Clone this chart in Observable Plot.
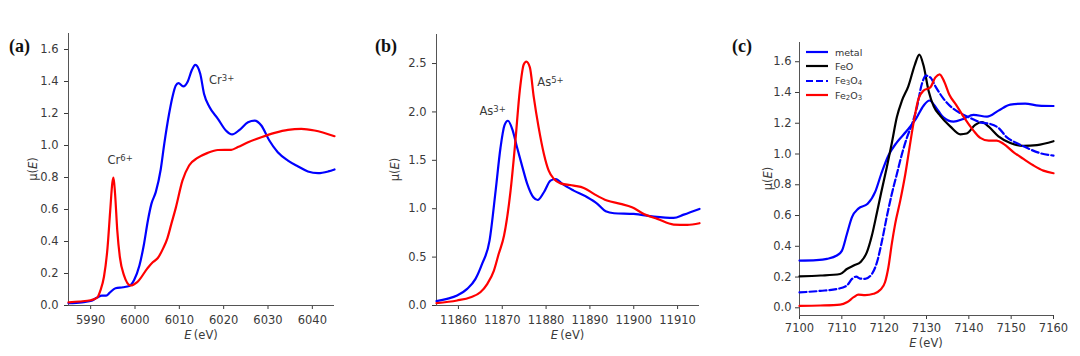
<!DOCTYPE html>
<html><head><meta charset="utf-8">
<script src="https://cdn.jsdelivr.net/npm/d3@7"></script>
<script src="https://cdn.jsdelivr.net/npm/@observablehq/plot@0.6"></script>
<style>
body{margin:0;background:#fff;}
#wrap{position:relative;width:1080px;height:356px;overflow:hidden;font-family:"DejaVu Sans",sans-serif;background:#fff;}
.panel{position:absolute;top:0;}
.plabel{position:absolute;font-family:"Liberation Serif",serif;font-weight:bold;font-size:18px;line-height:18px;color:#111;}
.legend{position:absolute;left:806px;top:45px;font-size:9.5px;color:#333;}
.legend .row{height:14.3px;display:flex;align-items:center;}
.legend svg{margin-right:7px;}
.legend sub{font-size:7px;vertical-align:-1px;line-height:0;}
</style></head><body><div id="wrap"></div>
<script>
// ---------- Panel (a): Cr K-edge ----------
const crRefE  = [5985, 5987.5, 5990, 5991.5, 5992.2, 5993, 5993.8, 5994.4, 5994.9, 5995.15, 5995.5, 5996.0, 5996.6, 5997.5, 5999.0, 6000.5, 6002.8, 6004.0, 6005.1, 6006.4, 6007.3, 6008.2, 6009.2, 6010.7, 6012.2, 6014.1, 6016.4, 6018.7, 6021.7, 6023.2, 6025.5, 6028.5, 6031.5, 6034.5, 6037.5, 6040.5, 6045];
const crRefMu = [0.02, 0.025, 0.033, 0.05, 0.094, 0.18, 0.36, 0.59, 0.77, 0.80, 0.70, 0.47, 0.30, 0.19, 0.125, 0.146, 0.232, 0.27, 0.295, 0.36, 0.42, 0.51, 0.61, 0.78, 0.875, 0.922, 0.954, 0.972, 0.973, 0.99, 1.02, 1.052, 1.079, 1.098, 1.104, 1.094, 1.058];
const crSampE  = [5985, 5988, 5990, 5991.5, 5992.5, 5993.5, 5994.3, 5995.6, 5997.3, 5998.7, 5999.8, 6001.0, 6002.0, 6002.9, 6003.7, 6004.7, 6005.8, 6006.6, 6007.7, 6008.5, 6009.2, 6009.8, 6010.9, 6011.9, 6012.8, 6013.6, 6014.7, 6015.6, 6016.8, 6018.7, 6020.5, 6021.9, 6023.6, 6025.5, 6027.0, 6028.5, 6030.3, 6032.2, 6034.5, 6036.8, 6039.0, 6041.3, 6043.6, 6045];
const crSampMu = [0.015, 0.02, 0.028, 0.05, 0.062, 0.062, 0.08, 0.108, 0.114, 0.122, 0.16, 0.25, 0.38, 0.53, 0.635, 0.71, 0.85, 1.01, 1.20, 1.31, 1.375, 1.39, 1.369, 1.40, 1.47, 1.504, 1.45, 1.32, 1.24, 1.167, 1.094, 1.069, 1.098, 1.146, 1.156, 1.125, 1.031, 0.958, 0.906, 0.869, 0.838, 0.827, 0.838, 0.85];
const crNoteBase = ["Cr", "Cr"];
const crNoteSup  = ["6+", "3+"];
const crNoteE    = [5993.8, 6016.7];
const crNoteMu   = [0.906, 1.406];
const crXTicks = [5990, 6000, 6010, 6020, 6030, 6040];
const crYTicks = [0, 0.2, 0.4, 0.6, 0.8, 1.0, 1.2, 1.4, 1.6];

// ---------- Panel (b): As K-edge ----------
const as3E  = [11855, 11857.4, 11859.7, 11862, 11863.9, 11865.4, 11867.1, 11868.5, 11869.6, 11870.5, 11871.3, 11872.3, 11873.4, 11874.6, 11875.7, 11877.1, 11878.1, 11879.5, 11881, 11882.2, 11883.7, 11886.3, 11889.4, 11891.7, 11893.6, 11895.5, 11900, 11904.6, 11909.1, 11911.4, 11915];
const as3Mu = [0.045, 0.069, 0.103, 0.172, 0.275, 0.43, 0.67, 1.19, 1.63, 1.86, 1.909, 1.82, 1.63, 1.43, 1.256, 1.118, 1.09, 1.17, 1.29, 1.307, 1.256, 1.187, 1.118, 1.05, 0.973, 0.953, 0.946, 0.918, 0.905, 0.939, 0.998];
const as5E  = [11855, 11859.7, 11862.8, 11865, 11866.6, 11868.1, 11869.2, 11870.4, 11871.9, 11873, 11874, 11874.9, 11875.5, 11876.3, 11877.2, 11878.3, 11879.5, 11880.6, 11881.8, 11883.3, 11886.3, 11888.6, 11890.9, 11893.9, 11897, 11899.6, 11902.3, 11905.4, 11909.1, 11912.2, 11915];
const as5Mu = [0.024, 0.052, 0.086, 0.137, 0.224, 0.361, 0.534, 0.72, 1.187, 1.70, 2.22, 2.49, 2.52, 2.46, 2.15, 1.84, 1.566, 1.393, 1.307, 1.262, 1.238, 1.215, 1.153, 1.084, 1.05, 1.015, 0.946, 0.895, 0.836, 0.833, 0.85];
const asNoteBase = ["As", "As"];
const asNoteSup  = ["3+", "5+"];
const asNoteE    = [11864.8, 11878.0];
const asNoteMu   = [2.005, 2.305];
const asXTicks = [11860, 11870, 11880, 11890, 11900, 11910];
const asYTicks = [0, 0.5, 1.0, 1.5, 2.0, 2.5];

// ---------- Panel (c): Fe K-edge ----------
const metalE  = [7100, 7104, 7106.5, 7108.8, 7110, 7111.2, 7112.4, 7113.9, 7116.1, 7117.9, 7119.3, 7121, 7123, 7125.2, 7127.5, 7129.3, 7130.7, 7132.3, 7134, 7136.4, 7138.7, 7141.1, 7144.3, 7147, 7149.8, 7153.3, 7156.5, 7160];
const metalMu = [0.307, 0.31, 0.318, 0.34, 0.37, 0.48, 0.59, 0.645, 0.676, 0.755, 0.87, 0.99, 1.076, 1.146, 1.228, 1.314, 1.348, 1.30, 1.238, 1.21, 1.228, 1.255, 1.243, 1.282, 1.321, 1.328, 1.315, 1.312];
const feoE  = [7100, 7105, 7109.6, 7111.2, 7112.8, 7114.5, 7115.9, 7117.1, 7118.3, 7119.3, 7120.6, 7121.8, 7123, 7124.2, 7125.7, 7127.3, 7128.3, 7129.3, 7130.5, 7131.7, 7133.2, 7135.6, 7138, 7139.5, 7141.5, 7143.1, 7144.7, 7147, 7149.8, 7152.9, 7156.1, 7160];
const feoMu = [0.205, 0.21, 0.22, 0.252, 0.275, 0.30, 0.36, 0.47, 0.62, 0.75, 0.91, 1.07, 1.24, 1.347, 1.44, 1.585, 1.646, 1.575, 1.41, 1.31, 1.25, 1.18, 1.128, 1.133, 1.19, 1.208, 1.178, 1.115, 1.072, 1.053, 1.058, 1.083];
const fe3o4E  = [7100, 7104.9, 7108.8, 7111.2, 7112.4, 7113.4, 7114.3, 7115.5, 7117.1, 7118.3, 7119.5, 7120.6, 7121.8, 7123, 7124.2, 7125.4, 7126.6, 7127.7, 7128.9, 7129.9, 7130.9, 7132.1, 7134, 7136.4, 7138, 7140.3, 7142.7, 7145, 7147, 7149, 7151.4, 7153.7, 7156.9, 7160];
const fe3o4Mu = [0.10, 0.11, 0.122, 0.145, 0.188, 0.203, 0.19, 0.188, 0.22, 0.296, 0.437, 0.589, 0.74, 0.87, 1.0, 1.108, 1.196, 1.30, 1.455, 1.509, 1.498, 1.44, 1.36, 1.293, 1.265, 1.235, 1.206, 1.196, 1.17, 1.108, 1.07, 1.04, 1.005, 0.99];
const fe2o3E  = [7100, 7104.9, 7109.6, 7111.2, 7112.8, 7113.9, 7115.5, 7117.5, 7119.1, 7120.2, 7121, 7121.8, 7122.6, 7123.8, 7125, 7126, 7126.9, 7128.1, 7129.3, 7130.9, 7132.1, 7133.1, 7134.2, 7135.4, 7137.0, 7139.1, 7141.1, 7142.7, 7144.7, 7146.6, 7148.2, 7150.6, 7152.9, 7155.3, 7157.6, 7160];
const fe2o3Mu = [0.012, 0.015, 0.021, 0.036, 0.069, 0.086, 0.082, 0.091, 0.117, 0.166, 0.264, 0.416, 0.546, 0.697, 0.87, 1.044, 1.196, 1.358, 1.412, 1.433, 1.498, 1.518, 1.47, 1.385, 1.32, 1.228, 1.152, 1.105, 1.087, 1.087, 1.066, 1.011, 0.968, 0.925, 0.892, 0.875];
const feLegend = ["metal", "FeO", "Fe<sub>3</sub>O<sub>4</sub>", "Fe<sub>2</sub>O<sub>3</sub>"];
const feXTicks = [7100, 7110, 7120, 7130, 7140, 7150, 7160];
const feYTicks = [0, 0.2, 0.4, 0.6, 0.8, 1.0, 1.2, 1.4, 1.6];

const BLUE = "#0000ff", RED = "#ff0000", BLACK = "#000000";
const toRows = (E, mu) => E.map((e, i) => ({E: e, mu: mu[i]}));

function panel(o) {
  const marks = [
    Plot.ruleX([o.xDomain[0]], {stroke: "#555", strokeWidth: 1}),
    Plot.ruleY([o.yDomain[0]], {stroke: "#555", strokeWidth: 1})
  ];
  for (const s of o.series) {
    marks.push(Plot.line(toRows(s.E, s.mu), {
      x: "E", y: "mu", stroke: s.color, strokeWidth: 2.2,
      curve: "monotone-x", strokeDasharray: s.dash
    }));
  }
  if (o.notes) {
    const rows = o.notes.base.map((t, i) => ({t, E: o.notes.E[i], mu: o.notes.mu[i]}));
    marks.push(Plot.text(rows, {x: "E", y: "mu", text: "t", textAnchor: "start", fontSize: 11.5, fill: "#3a3a3a"}));
  }
  const svg = Plot.plot({
    width: 360, height: 356,
    marginLeft: o.mL, marginRight: o.mR, marginTop: o.mT, marginBottom: o.mB,
    style: {fontFamily: "DejaVu Sans", fontSize: "11.5px", color: "#3a3a3a", background: "transparent"},
    x: {domain: o.xDomain, ticks: o.xTicks, tickFormat: "d", tickSize: 4, tickPadding: o.padX, label: null},
    y: {domain: o.yDomain, ticks: o.yTicks, tickFormat: ".1f", tickSize: 4, tickPadding: o.padY, label: null},
    marks
  });
  const s = d3.select(svg);
  if (o.notes) {
    s.selectAll('g[aria-label="text"] text').each(function(_, i) {
      d3.select(this).append("tspan").attr("dy", "-0.42em").attr("font-size", "8.5px").text(o.notes.sup[i]);
    });
  }
  const cx = (o.mL + 360 - o.mR) / 2;
  const xl = s.append("text").attr("x", cx).attr("y", 356 - o.mB + o.xlabOff)
    .attr("text-anchor", "middle").attr("dominant-baseline", "middle")
    .attr("fill", "#3a3a3a").attr("font-size", "11.5px").attr("font-family", "DejaVu Sans");
  xl.append("tspan").attr("font-style", "italic").text("E");
  xl.append("tspan").text("\u2009(eV)");
  const cy = (o.mT + 356 - o.mB) / 2;
  const yl = s.append("text").attr("transform", `translate(${o.mL - o.ylabOff},${cy}) rotate(-90)`)
    .attr("text-anchor", "middle").attr("dominant-baseline", "middle")
    .attr("fill", "#3a3a3a").attr("font-size", "11.5px").attr("font-family", "DejaVu Sans");
  yl.append("tspan").text("\u03BC(");
  yl.append("tspan").attr("font-style", "italic").text("E");
  yl.append("tspan").text(")");
  svg.classList.add("panel");
  svg.style.left = o.left + "px";
  return svg;
}

const wrap = document.getElementById("wrap");
wrap.appendChild(panel({
  left: 0, mL: 68, mR: 26, mT: 33, mB: 51, xDomain: [5985, 6045], yDomain: [0, 1.7],
  xTicks: crXTicks, yTicks: crYTicks, padX: 6, padY: 6, xlabOff: 30, ylabOff: 35,
  series: [{E: crSampE, mu: crSampMu, color: BLUE}, {E: crRefE, mu: crRefMu, color: RED}],
  notes: {base: crNoteBase, sup: crNoteSup, E: crNoteE, mu: crNoteMu}
}));
wrap.appendChild(panel({
  left: 360, mL: 76, mR: 21, mT: 34, mB: 51, xDomain: [11855, 11915], yDomain: [0, 2.8],
  xTicks: asXTicks, yTicks: asYTicks, padX: 6, padY: 6, xlabOff: 30, ylabOff: 41,
  series: [{E: as3E, mu: as3Mu, color: BLUE}, {E: as5E, mu: as5Mu, color: RED}],
  notes: {base: asNoteBase, sup: asNoteSup, E: asNoteE, mu: asNoteMu}
}));
wrap.appendChild(panel({
  left: 720, mL: 79, mR: 27, mT: 42, mB: 41, xDomain: [7100, 7160], yDomain: [-0.05, 1.725],
  xTicks: feXTicks, yTicks: feYTicks, padX: 4, padY: 4, xlabOff: 28, ylabOff: 31,
  series: [
    {E: metalE, mu: metalMu, color: BLUE},
    {E: feoE, mu: feoMu, color: BLACK},
    {E: fe3o4E, mu: fe3o4Mu, color: BLUE, dash: "7,3"},
    {E: fe2o3E, mu: fe2o3Mu, color: RED}
  ]
}));

// panel letters
[["(a)", 9], ["(b)", 375], ["(c)", 732]].forEach(([t, x]) => {
  const d = document.createElement("div");
  d.className = "plabel"; d.style.left = x + "px"; d.style.top = "37px"; d.textContent = t;
  wrap.appendChild(d);
});

// legend for panel (c)
const lg = document.createElement("div");
lg.className = "legend";
const legColors = [BLUE, BLACK, BLUE, RED];
const legDash = [null, null, "7,3", null];
feLegend.forEach((name, i) => {
  const row = document.createElement("div");
  row.className = "row";
  row.innerHTML = `<svg width="22" height="6"><line x1="0" x2="22" y1="3" y2="3" stroke="${legColors[i]}" stroke-width="2.2"${legDash[i] ? ` stroke-dasharray="${legDash[i]}"` : ""}/></svg><span>${name}</span>`;
  lg.appendChild(row);
});
wrap.appendChild(lg);
</script>
</body></html>
